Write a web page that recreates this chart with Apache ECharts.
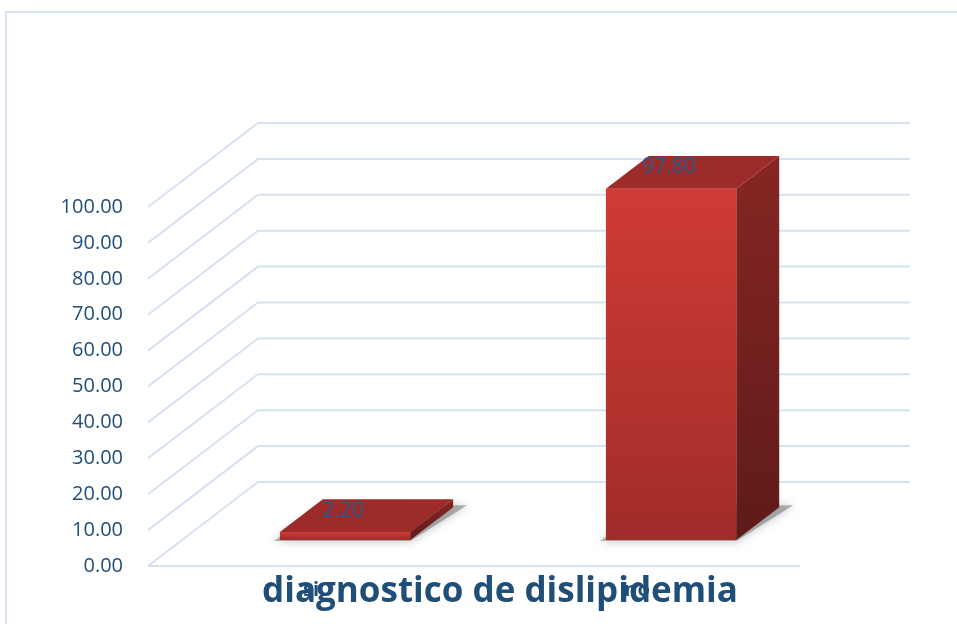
<!DOCTYPE html>
<html>
<head>
<meta charset="utf-8">
<script src="https://cdn.jsdelivr.net/npm/echarts@6/dist/echarts.min.js"></script>
<style>
  html, body { margin: 0; padding: 0; background: #ffffff; }
  #chart { width: 957px; height: 624px; }
</style>
</head>
<body>
<div id="chart"></div>
<script>
// Chart data
var categories = ['si', 'no'];
var percentValues = [2.20, 97.80];
var tickValues = [0, 10, 20, 30, 40, 50, 60, 70, 80, 90, 100];
var chartTitle = 'diagnostico de dislipidemia';

// Pseudo-3D depth of the floor / side wall
var DEPTH_X = 110, DEPTH_Y = -84;
var BAR_FRONT = 0.31, BAR_BACK = 0.70;
var TEXT_BLUE = '#1F4E79';
var GRID_BLUE = '#D6E2F2';
var FONT = '"Open Sans", "Noto Sans", sans-serif';

var chart = echarts.init(document.getElementById('chart'), null, { renderer: 'canvas' });

function renderWalls(params, api) {
  var cs = params.coordSys;
  var v = api.value(1);
  var y = api.coord([0, v])[1];
  var children = [{
    type: 'polyline',
    shape: { points: [[cs.x, y], [cs.x + DEPTH_X, y + DEPTH_Y], [cs.x + cs.width + DEPTH_X, y + DEPTH_Y]] },
    style: { stroke: GRID_BLUE, lineWidth: 2, fill: null }
  }];
  if (v === 0) {
    children.push({
      type: 'line',
      shape: { x1: cs.x, y1: y, x2: cs.x + cs.width, y2: y },
      style: { stroke: GRID_BLUE, lineWidth: 2 }
    });
  }
  return { type: 'group', children: children };
}

function renderBar(params, api) {
  var idx = api.value(0);
  var v = api.value(1);
  var base = api.coord([idx, 0]);
  var top = api.coord([idx, v]);
  var w = api.size([1, 0])[0] * 0.40;
  var fx = DEPTH_X * BAR_FRONT, fy = DEPTH_Y * BAR_FRONT;
  var dx = DEPTH_X * (BAR_BACK - BAR_FRONT), dy = DEPTH_Y * (BAR_BACK - BAR_FRONT);
  var x0 = base[0] - w / 2 + fx, x1 = x0 + w;
  var yb = base[1] + fy, yt = top[1] + fy;

  return {
    type: 'group',
    children: [
      { // soft floor shadow
        type: 'polygon',
        shape: { points: [[x0 - 6, yb + 1], [x1, yb + 1], [x1 + dx + 14, yb + dy - 2], [x0 + dx, yb + dy]] },
        style: { fill: 'rgba(120,120,120,0.55)', shadowBlur: 10, shadowColor: 'rgba(0,0,0,0.45)' }
      },
      { // front face
        type: 'rect',
        shape: { x: x0, y: yt, width: w, height: yb - yt },
        style: {
          fill: new echarts.graphic.LinearGradient(0, 0, 0, 1, [
            { offset: 0, color: '#D03B36' },
            { offset: 1, color: '#A02C29' }
          ])
        }
      },
      { // right side face
        type: 'polygon',
        shape: { points: [[x1, yt], [x1 + dx, yt + dy], [x1 + dx, yb + dy], [x1, yb]] },
        style: {
          fill: new echarts.graphic.LinearGradient(0, 0, 0, 1, [
            { offset: 0, color: '#862624' },
            { offset: 1, color: '#5E1B19' }
          ])
        }
      },
      { // top face
        type: 'polygon',
        shape: { points: [[x0, yt], [x1, yt], [x1 + dx, yt + dy], [x0 + dx, yt + dy]] },
        style: { fill: '#9D2B29' }
      },
      { // value label
        type: 'text',
        style: {
          text: v.toFixed(2),
          x: x0 + w / 2 - 2,
          y: yt + dy / 2 - 5,
          textAlign: 'center',
          textVerticalAlign: 'middle',
          font: '21px ' + FONT,
          fill: '#2B5A8E'
        }
      }
    ]
  };
}

var barData = categories.map(function (c, i) { return [i, percentValues[i]]; });
var wallData = tickValues.map(function (t) { return [0, t]; });

chart.setOption({
  animation: false,
  backgroundColor: '#ffffff',
  grid: { left: 148, right: 157, top: 207, bottom: 58 },
  xAxis: {
    type: 'category',
    data: categories,
    axisLine: { show: false },
    axisTick: { show: false },
    axisLabel: {
      margin: 14,
      fontSize: 20,
      fontWeight: 'bold',
      fontFamily: FONT,
      color: TEXT_BLUE
    }
  },
  yAxis: {
    type: 'value',
    min: 0,
    max: 100,
    interval: 10,
    axisLine: { show: false },
    axisTick: { show: false },
    splitLine: { show: false },
    axisLabel: {
      margin: 25,
      fontSize: 20,
      fontFamily: FONT,
      color: TEXT_BLUE,
      formatter: function (val) { return val.toFixed(2); }
    }
  },
  series: [
    {
      type: 'custom',
      name: 'walls',
      data: wallData,
      encode: { x: 0, y: 1 },
      renderItem: renderWalls,
      z: 1,
      silent: true
    },
    {
      type: 'custom',
      name: 'porcentaje',
      data: barData,
      encode: { x: 0, y: 1 },
      renderItem: renderBar,
      z: 5
    }
  ],
  graphic: [
    {
      type: 'polyline',
      z: 0,
      shape: { points: [[6, 624], [6, 12], [957, 12]] },
      style: { stroke: GRID_BLUE, lineWidth: 2, fill: null }
    },
    {
      type: 'text',
      z: 100,
      style: {
        text: chartTitle,
        x: 500,
        y: 592,
        textAlign: 'center',
        textVerticalAlign: 'middle',
        font: 'bold 35px ' + FONT,
        fill: TEXT_BLUE
      }
    }
  ]
});
</script>
</body>
</html>
